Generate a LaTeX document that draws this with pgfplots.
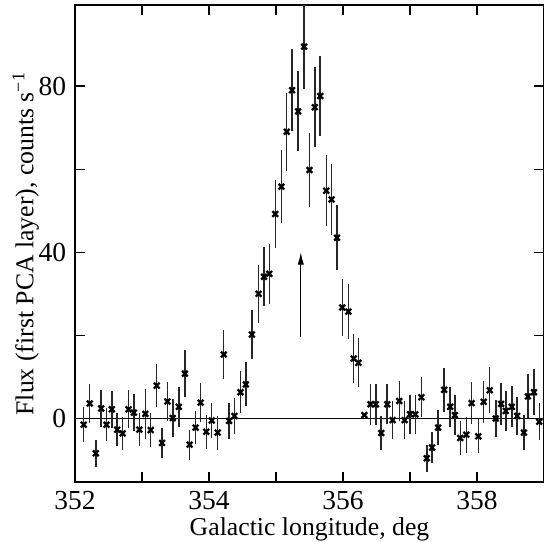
\documentclass[border=0pt]{standalone}
\usepackage{fontspec}
\setmainfont{Liberation Serif}
\usepackage{pgfplots}
\pgfplotsset{compat=1.18}
\usepackage{pgfplotstable}
\usetikzlibrary{arrows.meta}

% longitude, flux, error
\pgfplotstableread{
l flux err
352.13 -1.5 4.2
352.22 3.6 4.8
352.31 -8.4 3.2
352.39 2.4 4.5
352.47 -1.5 3.9
352.55 2.2 4.4
352.63 -2.7 4.0
352.71 -3.6 4.0
352.80 2.2 4.6
352.88 1.4 4.5
352.96 -2.7 4.0
353.05 1.1 6.0
353.13 -2.8 4.0
353.22 7.9 5.2
353.30 -5.9 3.6
353.38 4.1 4.7
353.46 0.1 4.5
353.55 2.8 4.8
353.64 10.8 5.6
353.71 -6.3 3.6
353.80 -2.2 4.0
353.875 3.8 4.7
353.96 -3.2 4.1
354.04 -0.5 4.3
354.13 -3.4 4.1
354.22 15.4 6.0
354.30 -0.6 4.4
354.38 0.6 4.4
354.47 6.3 5.1
354.55 8.2 5.3
354.64 20.2 5.9
354.74 30.0 7.0
354.82 34.1 7.1
354.90 34.8 7.2
354.99 49.2 8.3
355.08 55.8 8.7
355.16 69.0 9.4
355.24 79.0 9.8
355.33 73.9 9.6
355.42 89.5 10.2
355.50 59.8 8.8
355.58 74.9 9.6
355.66 77.6 9.7
355.75 54.8 8.5
355.83 52.7 8.6
355.91 43.5 7.8
355.99 26.7 6.9
356.08 25.7 6.7
356.16 14.4 5.9
356.23 13.4 5.9
356.32 0.8 0
356.41 3.4 5.0
356.49 3.4 5.0
356.57 -3.5 4.2
356.66 3.4 4.8
356.74 -0.4 4.5
356.84 4.2 4.9
356.92 -0.4 4.5
357.00 1.0 4.7
357.08 1.0 4.7
357.17 5.1 4.8
357.25 -9.6 3.2
357.33 -7.0 3.8
357.42 -2.2 4.2
357.51 6.9 5.3
357.60 2.8 4.8
357.67 0.8 4.9
357.75 -4.7 4.0
357.84 -3.9 4.3
357.92 3.7 5.0
358.02 -4.3 4.1
358.10 4.0 5.0
358.19 6.8 5.5
358.28 0.0 4.5
358.36 3.5 5.0
358.43 1.8 4.9
358.52 2.8 4.9
358.60 0.6 4.5
358.70 -3.4 4.3
358.76 5.3 5.3
358.85 6.3 5.5
358.93 -0.8 4.4
}\fluxdata

\begin{document}
\begin{tikzpicture}
\begin{axis}[
  scale only axis,
  width=187.6pt, height=190.8pt,
  xmin=352, xmax=359, ymin=-15.3, ymax=99.5,
  xtick={352,354,356,358}, minor x tick num=1,
  ytick={0,40,80}, minor y tick num=1,
  tick align=inside, major tick length=4pt, minor tick length=4pt,
  every tick/.style={black, line width=0.5pt},
  axis line style={line width=0.6pt},
  /pgf/number format/assume math mode=true,
  tick label style={font=\fontsize{11}{13}\selectfont},
  label style={font=\fontsize{10.3}{12}\selectfont},
  xticklabel style={/pgf/number format/1000 sep={}, yshift=0pt},
  yticklabel style={xshift=0pt},
  xlabel={Galactic longitude, deg},
  ylabel={Flux (first PCA layer), counts s\textsuperscript{−1}},
  xlabel style={yshift=3.5pt},
  ylabel style={yshift=-7pt},
  clip=true,
]
\addplot[black, line width=0.7pt, forget plot] coordinates {(352,0) (359,0)};
\addplot[only marks, mark=x, mark size=1.6pt, mark options={line width=0.9pt, black},
  error bars/.cd, y dir=both, y explicit,
  error bar style={line width=0.6pt, black!85}, error mark=none]
  table[x=l, y=flux, y error=err] {\fluxdata};
\draw[-{Latex[length=5pt,width=2.6pt]}, line width=0.5pt]
  (axis cs:355.37,19.5) -- (axis cs:355.37,40);
\coordinate (sw) at (rel axis cs:0,0);
\coordinate (ne) at (rel axis cs:1,1);
\end{axis}
\pgfresetboundingbox
\path ([xshift=-30pt,yshift=-23.6pt]sw) rectangle ([yshift=2pt]ne);
\end{tikzpicture}
\end{document}
